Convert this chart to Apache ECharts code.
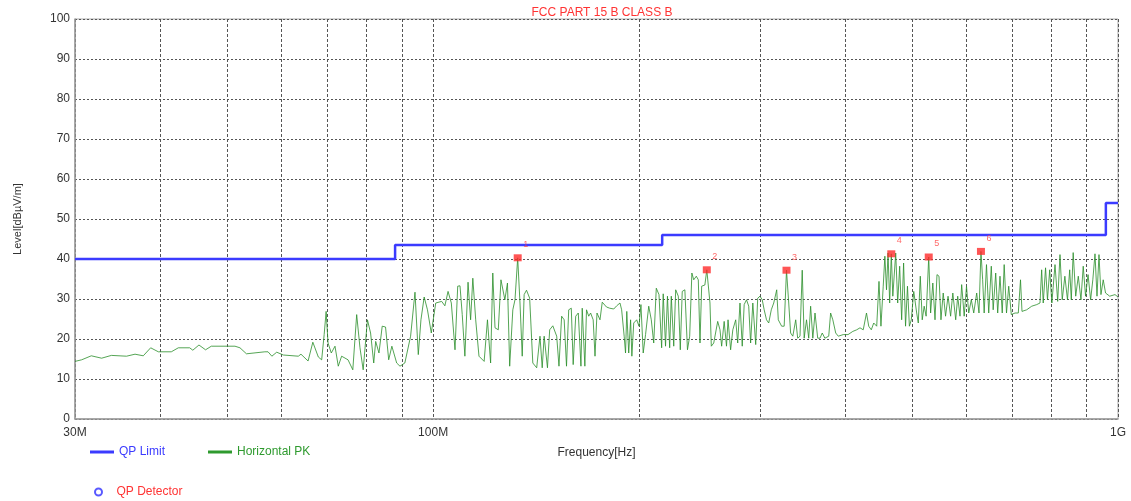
<!DOCTYPE html>
<html>
<head>
<meta charset="utf-8">
<script src="https://cdn.jsdelivr.net/npm/echarts@6/dist/echarts.min.js"></script>
<style>html,body{margin:0;padding:0;background:#fff;}#c{width:1131px;height:501px;}</style>
</head>
<body>
<div id="c"></div>
<script>
// Frequency in MHz, level in dBuV/m (Horizontal PK trace)
const freqMHz = [30.0,30.68,31.69,32.81,33.90,35.67,36.71,37.74,38.69,39.70,41.47,42.46,44.11,44.58,45.51,46.53,47.44,51.37,52.24,53.39,56.80,57.41,58.15,59.11,60.42,60.75,63.56,64.13,65.68,66.74,67.98,68.75,69.33,69.79,70.24,71.01,71.90,72.70,73.52,75.12,76.34,77.34,78.20,79.05,80.19,81.04,81.90,82.44,83.36,84.27,85.22,86.13,87.05,88.47,89.46,90.93,92.71,94.09,95.14,95.99,97.04,98.12,99.39,100.88,102.91,104.03,105.15,106.31,107.64,108.62,109.46,110.29,111.27,112.46,113.44,114.28,115.39,116.67,118.72,120.05,121.33,122.22,123.13,124.50,125.62,127.28,128.40,129.36,130.73,131.69,132.89,133.92,134.93,135.81,136.88,138.35,139.82,141.66,143.23,144.31,145.26,146.88,147.98,149.54,151.51,152.68,154.05,155.37,156.59,157.76,159.13,160.14,161.51,162.92,164.38,165.09,166.56,167.48,168.74,169.81,171.28,172.34,173.49,175.25,176.58,179.13,181.06,183.54,185.38,187.43,188.49,190.09,190.97,191.77,193.02,194.25,195.07,196.30,198.27,199.80,201.12,202.66,204.26,206.45,208.24,209.95,211.77,213.70,215.62,216.75,218.46,219.87,221.52,222.72,224.56,226.05,228.03,229.56,231.07,233.12,235.17,236.93,238.67,240.17,242.27,243.89,245.29,246.66,249.34,250.96,253.66,254.79,256.89,260.33,262.34,263.81,266.05,268.14,269.54,271.89,273.90,276.58,278.44,280.59,282.72,284.57,286.80,288.95,290.80,292.96,295.82,297.81,300.11,302.38,304.36,306.75,309.05,311.73,314.30,317.45,319.15,322.77,325.52,328.08,330.54,332.65,335.12,338.40,340.67,343.31,345.90,348.17,350.90,353.53,355.80,358.43,361.08,364.37,367.18,369.96,373.25,378.12,380.54,383.36,387.10,390.48,397.00,403.49,410.02,415.42,420.03,424.62,429.32,432.55,436.30,439.90,444.31,447.74,450.70,454.15,456.67,459.19,461.57,464.13,466.65,469.04,473.62,476.81,479.98,483.19,486.35,489.57,492.73,495.90,499.11,503.22,505.37,508.26,510.99,514.42,517.80,521.19,524.62,529.22,532.61,536.55,540.52,544.14,547.82,551.44,555.65,560.03,564.73,569.65,573.87,579.48,583.38,587.89,591.19,596.21,600.90,605.41,610.67,615.70,621.86,626.67,630.81,634.40,637.67,642.68,647.50,653.13,657.27,662.89,667.35,672.51,677.60,682.03,687.39,692.55,698.56,707.33,715.20,720.54,724.13,735.62,748.27,760.86,769.32,773.63,777.71,783.84,788.91,794.81,800.64,809.14,816.50,822.81,829.05,836.41,843.77,850.08,854.70,860.10,867.46,875.04,882.90,889.65,896.66,904.19,912.07,918.81,925.61,931.81,938.11,944.31,951.53,959.02,972.45,990.0,1000];
const levelPK = [14.4,14.8,15.8,15.2,15.9,15.7,16.2,15.8,17.8,16.8,16.8,17.8,17.8,17.2,18.5,17.3,18.2,18.2,17.8,16.3,16.8,16.8,15.7,16.7,16.0,15.8,15.7,16.2,14.5,19.2,15.5,14.8,21.1,26.9,19.0,16.5,18.2,13.2,15.7,14.8,12.3,26.1,17.8,12.3,24.8,21.5,14.0,19.4,16.5,23.2,23.0,14.8,18.2,14.0,13.2,14.0,20.7,31.7,16.1,24.8,30.5,27.3,21.5,29.0,29.4,28.3,31.9,29.0,17.3,33.2,33.3,26.1,15.7,34.2,24.8,35.2,24.8,15.7,14.4,24.8,14.0,36.5,22.8,22.3,34.8,29.8,34.0,13.2,27.3,29.8,40.3,29.0,15.7,31.1,32.2,30.2,14.0,12.8,20.7,12.8,20.7,12.8,22.3,23.3,20.7,13.2,25.7,24.8,13.2,27.3,27.7,13.6,25.7,26.5,13.2,27.7,13.2,27.3,25.7,26.5,24.8,15.7,26.5,24.8,29.2,28.0,27.7,27.5,28.3,29.0,27.3,20.7,16.5,26.9,16.5,24.8,15.7,24.0,24.8,23.2,28.6,16.5,21.1,28.2,24.8,19.0,32.7,31.1,17.8,31.3,18.2,30.7,17.8,30.7,18.2,32.3,30.7,17.3,31.9,32.3,17.3,20.7,36.5,34.8,35.7,34.8,19.0,33.2,33.5,37.3,29.0,18.2,19.0,24.4,22.3,18.2,24.4,18.2,24.8,17.3,22.3,24.8,19.0,29.0,18.2,28.6,29.8,28.2,19.0,29.0,18.6,30.2,30.7,29.8,27.3,24.8,24.0,27.3,29.0,32.3,24.8,23.2,23.2,37.2,29.0,21.5,20.7,24.8,20.2,20.7,37.2,20.2,24.8,20.2,28.2,20.2,26.5,20.2,20.2,21.5,20.2,20.7,26.5,24.8,21.5,20.7,21.1,21.1,21.9,22.3,22.8,22.3,26.5,23.2,22.3,24.0,23.2,34.4,23.2,33.2,40.7,32.3,41.5,29.0,41.3,30.7,41.5,29.0,38.2,24.8,39.0,23.2,33.2,23.2,24.8,31.9,31.5,26.5,24.0,35.7,24.8,28.2,25.7,40.5,26.5,34.0,24.8,36.1,35.7,24.8,31.5,25.7,30.7,25.7,31.5,24.8,30.7,25.7,33.6,25.7,33.2,26.5,29.8,26.5,31.5,26.5,41.9,34.8,26.5,38.6,26.5,38.2,27.3,36.5,26.5,35.7,26.5,38.6,26.5,33.2,26.1,26.5,26.5,34.8,26.9,27.3,28.2,28.6,29.0,37.3,29.0,37.8,29.8,37.3,29.0,38.6,29.4,41.1,29.8,35.7,29.8,37.3,29.8,41.6,30.7,35.7,29.8,38.2,30.7,36.1,29.8,34.8,41.3,30.7,41.1,31.1,34.8,31.5,30.7,31.1,30.5];

// QP limit (FCC Part 15 B Class B)
const limitFreq = [30, 88, 88, 216, 216, 960, 960, 1000];
const limitLevel = [40, 40, 43.5, 43.5, 46, 46, 54, 54];

// Marked peaks
const peakFreq = [132.89, 250.96, 328.08, 466.65, 529.22, 630.81];
const peakLevel = [40.3, 37.3, 37.2, 41.3, 40.5, 41.9];
const peakLabel = ['1', '2', '3', '4', '5', '6'];

// Axis ticks
const xGridValues = [30,40,50,60,70,80,90,100,200,300,400,500,600,700,800,900,1000];
const xLabelValues = [30, 100, 1000];
const xLabelText = {30: '30M', 100: '100M', 1000: '1G'};

const FONT = 'Liberation Sans, Arial, sans-serif';
const chart = echarts.init(document.getElementById('c'));
chart.setOption({
  animation: false,
  backgroundColor: '#ffffff',
  title: {
    text: 'FCC PART 15 B CLASS B',
    left: 597, top: 2, textAlign: 'center',
    textStyle: {color: '#ff3333', fontSize: 12, fontWeight: 'normal', fontFamily: FONT}
  },
  grid: {left: 75, right: 13, top: 19, bottom: 82, show: true, borderColor: '#aaaaaa', borderWidth: 1},
  xAxis: {
    type: 'log', logBase: 10, min: 30, max: 1000,
    name: 'Frequency[Hz]', nameLocation: 'middle', nameGap: 28,
    nameTextStyle: {color: '#333', fontSize: 12, fontFamily: FONT},
    axisLine: {lineStyle: {color: '#999', width: 1.5}},
    axisTick: {show: false, customValues: xGridValues},
    axisLabel: {customValues: xLabelValues, color: '#333', fontSize: 12, fontFamily: FONT, margin: 8,
      formatter: v => xLabelText[Math.round(v)] || ''},
    splitLine: {show: true, lineStyle: {color: '#555', width: 1, type: [3, 2]}},
    minorTick: {show: false}, minorSplitLine: {show: false}
  },
  yAxis: {
    type: 'value', min: 0, max: 100, interval: 10,
    name: 'Level[dBµV/m]', nameLocation: 'middle', nameGap: 52, nameRotate: 90,
    nameTextStyle: {color: '#333', fontSize: 11, fontFamily: FONT},
    axisLine: {show: true, lineStyle: {color: '#999', width: 1.5}},
    axisTick: {show: false},
    axisLabel: {color: '#333', fontSize: 12, fontFamily: FONT, margin: 5},
    splitLine: {show: true, lineStyle: {color: '#555', width: 1, type: [2, 2]}}
  },
  legend: [
    {
      data: [
        {name: 'QP Limit', icon: 'rect', itemStyle: {color: '#3b3bff'}, textStyle: {color: '#3b3bff'}},
        {name: 'Horizontal PK', icon: 'rect', itemStyle: {color: '#2e9a2e'}, textStyle: {color: '#2e9a2e'}}
      ],
      left: 85, top: 441, itemWidth: 24, itemHeight: 3, itemGap: 43,
      textStyle: {fontSize: 12, fontFamily: FONT}, selectedMode: false
    },
    {
      data: [{name: 'QP Detector', textStyle: {color: '#ff3333'}}],
      left: 89, top: 481, itemWidth: 26, itemHeight: 7,
      textStyle: {fontSize: 12, fontFamily: FONT}, selectedMode: false
    }
  ],
  series: [
    {
      name: 'QP Limit', type: 'line', symbol: 'none', z: 3,
      data: limitFreq.map((f, i) => [f, limitLevel[i]]),
      lineStyle: {color: '#3b3bff', width: 2.5}, itemStyle: {color: '#3b3bff'}
    },
    {
      name: 'Horizontal PK', type: 'line', symbol: 'none', z: 2,
      data: freqMHz.map((f, i) => [f, levelPK[i]]),
      lineStyle: {color: '#2a8f2a', width: 1, opacity: 0.8}, itemStyle: {color: '#2e9a2e'}
    },
    {
      name: 'QP Detector', type: 'scatter', symbol: 'emptyCircle', symbolSize: 7,
      itemStyle: {color: '#3030ff', borderWidth: 2}, data: []
    },
    {
      name: 'Peaks', type: 'scatter', symbol: 'rect', symbolSize: [8, 7], z: 5,
      itemStyle: {color: '#ff2a2a'},
      data: peakFreq.map((f, i) => ({value: [f, peakLevel[i]], label: {formatter: peakLabel[i]}})),
      label: {show: true, position: 'top', offset: [8, 0], color: '#ff4444', fontSize: 9, fontFamily: FONT}
    }
  ]
});
</script>
</body>
</html>
